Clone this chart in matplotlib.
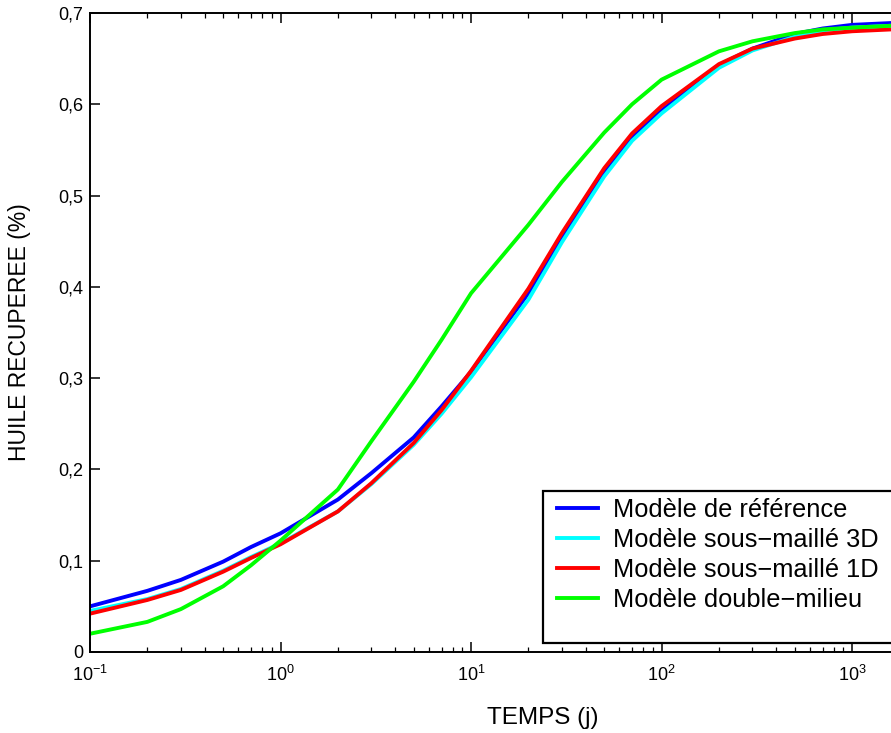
import math
import matplotlib
matplotlib.use("Agg")
import matplotlib.pyplot as plt
from matplotlib.patches import Rectangle
from matplotlib.ticker import LogLocator, FixedLocator, FuncFormatter, NullFormatter

plt.rcParams['font.family'] = ['Liberation Sans', 'DejaVu Sans']
plt.rcParams['mathtext.fontset'] = 'custom'
plt.rcParams['mathtext.rm'] = 'Liberation Sans'
plt.rcParams['mathtext.default'] = 'regular'

# temps (jours)
t = [0.1, 0.2, 0.3, 0.5, 0.7, 1, 2, 3, 5, 7, 10, 20, 30, 50, 70, 100,
     200, 300, 500, 700, 1000, 1600]

ref = [0.050, 0.067, 0.079, 0.099, 0.115, 0.130, 0.167, 0.196, 0.235, 0.269,
       0.307, 0.393, 0.455, 0.526, 0.564, 0.593, 0.643, 0.661, 0.677, 0.683,
       0.687, 0.689]
sm3d = [0.045, 0.058, 0.069, 0.089, 0.104, 0.119, 0.154, 0.184, 0.227, 0.261,
        0.301, 0.386, 0.449, 0.521, 0.560, 0.590, 0.640, 0.659, 0.674, 0.681,
        0.684, 0.686]
sm1d = [0.042, 0.057, 0.068, 0.088, 0.103, 0.118, 0.154, 0.185, 0.229, 0.265,
        0.308, 0.398, 0.459, 0.530, 0.568, 0.598, 0.644, 0.661, 0.672, 0.677,
        0.680, 0.682]
dm = [0.020, 0.033, 0.047, 0.072, 0.095, 0.122, 0.178, 0.231, 0.296, 0.342,
      0.393, 0.468, 0.515, 0.569, 0.600, 0.627, 0.658, 0.669, 0.678, 0.682,
      0.684, 0.686]

labels = ['Modèle de référence', 'Modèle sous\u2212maillé 3D',
          'Modèle sous\u2212maillé 1D', 'Modèle double\u2212milieu']
colors = ['#0000ff', '#00ffff', '#ff0000', '#00ff00']

fig = plt.figure(figsize=(8.91, 7.33), dpi=100)
ax = fig.add_axes([90 / 891, 81 / 733, 801 / 891, 639 / 733])

for y, lab, c in zip([ref, sm3d, sm1d, dm], labels, colors):
    ax.plot(t, y, color=c, lw=2.8, label=lab)

ax.set_xscale('log')
ax.set_xlim(0.1, 1600)
ax.set_ylim(0, 0.7)

ax.xaxis.set_major_locator(FixedLocator([0.1, 1, 10, 100, 1000]))
ax.xaxis.set_minor_locator(LogLocator(base=10, subs=range(2, 10)))
ax.xaxis.set_major_formatter(FuncFormatter(lambda v, p: r'$10^{%d}$' % round(math.log10(v))))
ax.xaxis.set_minor_formatter(NullFormatter())
ax.set_yticks([0, 0.1, 0.2, 0.3, 0.4, 0.5, 0.6, 0.7])
ax.set_yticklabels(['0', '0,1', '0,2', '0,3', '0,4', '0,5', '0,6', '0,7'])

ax.spines['right'].set_visible(False)
for s in ['left', 'top', 'bottom']:
    ax.spines[s].set_linewidth(1.4)
ax.tick_params(axis='x', which='major', direction='in', top=True, length=7,
               width=1.1, labelsize=13, pad=9)
ax.tick_params(axis='x', which='minor', direction='in', top=True, length=3.5,
               width=0.9)
ax.tick_params(axis='y', which='major', direction='in', right=False, length=7,
               width=1.1, labelsize=13, pad=5)

ax.set_xlabel('TEMPS (j)', fontsize=17.5)
ax.xaxis.set_label_coords((543 - 90) / 801, -(718 - 652) / 639)
ax.xaxis.label.set_va('center')
ax.set_ylabel('HUILE RECUPEREE (%)', fontsize=16.5)
ax.yaxis.set_label_coords(-(90 - 20) / 801, 0.5)
ax.yaxis.label.set_va('center')

# cadre de la légende
ax.add_patch(Rectangle(((543 - 90) / 801, (652 - 643) / 639), 0.6,
                       (643 - 491) / 639, transform=ax.transAxes,
                       facecolor='white', edgecolor='black', lw=1.6,
                       clip_on=False, zorder=4))
ax.legend(loc='upper left', bbox_to_anchor=((557 - 90) / 801, (652 - 498) / 639),
          frameon=False, fontsize=18.3, borderpad=0, borderaxespad=0,
          handlelength=1.63, handletextpad=0.58, labelspacing=0.24)

fig.savefig('out.png', dpi=100)
